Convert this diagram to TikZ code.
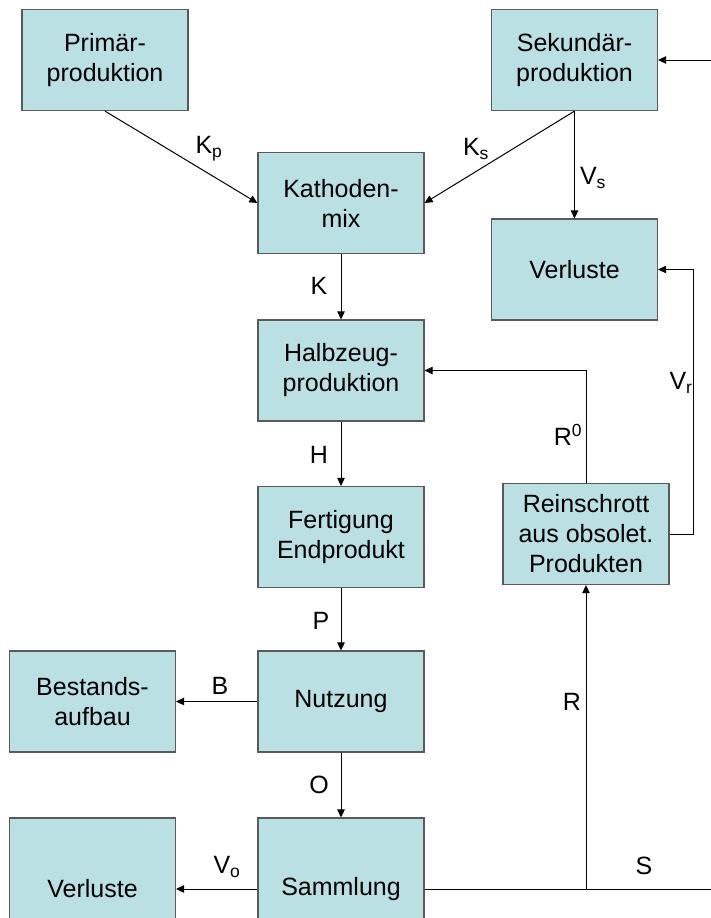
\documentclass[tikz,border=0pt]{standalone}
\usepackage{fontspec}
\setmainfont{Liberation Sans}
\usetikzlibrary{arrows.meta}
\definecolor{boxfill}{RGB}{187,224,227}
\definecolor{boxline}{RGB}{90,90,90}
\begin{document}
\begin{tikzpicture}[x=1pt, y=-1pt,
  flowbox/.style={draw=boxline, line width=1.2pt, fill=boxfill, inner sep=0pt,
    minimum width=166pt, minimum height=101pt, align=center,
    font=\fontsize{25}{30}\selectfont},
  flow/.style={draw=black, line width=1pt, -{Triangle[length=8pt,width=7.5pt]}},
  plain/.style={draw=black, line width=1pt},
  lbl/.style={inner sep=0pt, font=\fontsize{25}{30}\selectfont}]
\useasboundingbox (0,0) rectangle (711,918);

% process boxes
\node[flowbox] (prim) at (105,60)    {Primär-\\produktion};
\node[flowbox] (sek)  at (574.5,60)  {Sekundär-\\produktion};
\node[flowbox] (kath) at (341,203)   {Kathoden-\\mix};
\node[flowbox] (verlA) at (574.5,269.5) {Verluste};
\node[flowbox] (halb) at (341,370.5) {Halbzeug-\\produktion};
\node[flowbox] (fert) at (341,537)   {Fertigung\\Endprodukt};
\node[flowbox] (rein) at (586,534)   {Reinschrott\\aus obsolet.\\Produkten};
\node[flowbox] (nutz) at (341,701.5) {Nutzung};
\node[flowbox] (best) at (92.5,701.5) {Bestands-\\aufbau};
\node[flowbox, minimum height=142pt] (samm) at (341,889) {Sammlung};
\node[flowbox, minimum height=142pt] (verlB) at (92.5,889) {Verluste};

% free ends and corners
\coordinate (inS)  at (711,60);
\coordinate (outS) at (711,889);
\coordinate (rj)   at (586,889);
\coordinate (vrc)  at (693,534);

% connectors
\draw[flow] (prim.south) -- (kath.west);
\draw[flow] (sek.south) -- (kath.east);
\draw[flow] (sek.south) -- (verlA.north);
\draw[flow] (inS) -- (sek.east);
\draw[flow] (kath.south) -- (halb.north);
\draw[flow] (halb.south) -- (fert.north);
\draw[flow] (fert.south) -- (nutz.north);
\draw[flow] (nutz.south) -- (samm.north);
\draw[flow] (nutz.west) -- (best.east);
\draw[flow] (samm.west) -- (verlB.east);
\draw[plain] (samm.east) -- (outS);
\draw[flow] (rj) -- (rein.south);
\draw[flow] (rein.north) |- (halb.east);
\draw[flow] (rein.east) -- (vrc) |- (verlA.east);

% flow labels
\node[lbl] (lKp) at (209,149) {K\textsubscript{p}};
\node[lbl] (lKs) at (476,149) {K\textsubscript{s}};
\node[lbl] (lVs) at (593,178) {V\textsubscript{s}};
\node[lbl] (lK)  at (319,286) {K};
\node[lbl] (lH)  at (319,455) {H};
\node[lbl] (lP)  at (321,621) {P};
\node[lbl] (lB)  at (220,686) {B};
\node[lbl] (lO)  at (319,785) {O};
\node[lbl] (lR)  at (572,702) {R};
\node[lbl] (lR0) at (568,435) {R\textsuperscript{0}};
\node[lbl] (lVr) at (681,383) {V\textsubscript{r}};
\node[lbl] (lVo) at (227,867) {V\textsubscript{o}};
\node[lbl] (lS)  at (644,866) {S};
\end{tikzpicture}
\end{document}
